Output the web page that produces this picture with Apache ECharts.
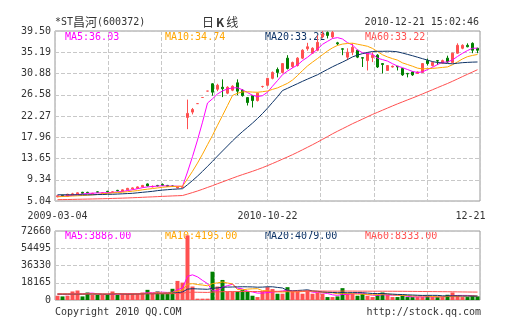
<!DOCTYPE html>
<html>
<head>
<meta charset="utf-8">
<script src="https://cdn.jsdelivr.net/npm/echarts@6/dist/echarts.min.js"></script>
<style>
html,body{margin:0;padding:0;background:#fff;}
#c{width:505px;height:330px;}
</style>
</head>
<body>
<div id="c"></div>
<script>
// Trading days shown on the daily K-line (suspension gap between 2009-04 and 2010-09)
const dates = [
  '2009-03-04','2009-03-05','2009-03-06','2009-03-09','2009-03-10','2009-03-11','2009-03-12','2009-03-13','2009-03-16','2009-03-17',
  '2009-03-18','2009-03-19','2009-03-20','2009-03-23','2009-03-24','2009-03-25','2009-03-26','2009-03-27','2009-03-30','2009-03-31',
  '2009-04-01','2009-04-02','2009-04-03','2009-04-07','2009-04-08','2009-04-09',
  '2010-09-20','2010-09-21','2010-09-27','2010-09-28','2010-09-29','2010-09-30','2010-10-08','2010-10-11','2010-10-12','2010-10-13',
  '2010-10-14','2010-10-15','2010-10-18','2010-10-19','2010-10-20','2010-10-21','2010-10-22','2010-10-25','2010-10-26','2010-10-27',
  '2010-10-28','2010-10-29','2010-11-01','2010-11-02','2010-11-03','2010-11-04','2010-11-05','2010-11-08','2010-11-09','2010-11-10',
  '2010-11-11','2010-11-12','2010-11-15','2010-11-16','2010-11-17','2010-11-18','2010-11-19','2010-11-22','2010-11-23','2010-11-24',
  '2010-11-25','2010-11-26','2010-11-29','2010-11-30','2010-12-01','2010-12-02','2010-12-03','2010-12-06','2010-12-07','2010-12-08',
  '2010-12-09','2010-12-10','2010-12-13','2010-12-14','2010-12-15','2010-12-16','2010-12-17','2010-12-20','2010-12-21'
];

const opens = [
  5.9,6.2,6.0,6.3,6.4,6.8,6.8,6.5,6.9,6.6,
  7.0,6.8,7.2,7.0,7.3,7.5,7.6,7.9,8.5,7.9,
  8.2,8.4,8.2,8.1,7.7,7.8,21.99,23.06,24.78,26.02,
  27.32,28.8,27.7,28.1,26.9,27.5,29.0,27.5,26.0,26.4,
  25.4,28.25,28.5,29.9,31.7,31.1,34.0,32.3,32.5,34.0,
  35.9,35.0,35.6,38.3,39.2,38.3,37.1,35.9,34.2,35.2,
  35.6,34.1,33.5,34.1,34.6,32.9,31.5,32.2,32.35,31.9,
  30.9,31.2,30.9,31.1,33.5,32.5,33.5,33.0,34.0,33.1,
  35.0,36.0,36.6,37.0,36.0
];
const closes = [
  6.1,6.0,6.4,6.5,6.7,6.6,6.7,6.6,6.8,6.7,
  6.9,6.9,7.1,7.3,7.6,7.7,7.9,8.2,8.1,8.0,
  8.1,8.2,8.0,8.0,7.9,7.9,22.8,23.6,24.78,26.02,
  27.32,27.1,28.5,27.8,28.1,28.3,27.3,26.4,25.0,25.4,
  26.9,28.25,29.9,31.1,31.1,32.9,31.9,33.1,34.0,35.6,
  36.3,36.0,37.2,38.9,38.6,39.2,36.9,35.8,35.2,36.2,
  34.2,34.0,35.0,34.6,32.2,32.7,32.5,32.35,32.2,30.6,
  30.8,30.6,31.2,32.9,32.9,33.1,33.4,33.5,33.2,35.0,
  36.6,36.6,36.3,35.6,35.6
];
const lows = [
  5.8,5.9,5.9,6.2,6.3,6.5,6.6,6.4,6.7,6.5,
  6.8,6.7,7.0,6.9,7.2,7.4,7.5,7.8,8.0,7.8,
  8.0,8.1,7.9,7.9,7.6,7.7,19.6,22.6,24.78,26.02,
  27.32,26.4,27.3,26.1,26.7,27.3,26.5,26.2,24.4,24.0,
  25.2,28.0,28.3,29.7,30.1,30.9,31.7,32.0,32.3,33.8,
  35.5,34.9,35.4,38.0,38.0,38.0,36.6,34.6,33.6,34.6,
  34.0,32.2,31.5,33.2,32.0,30.9,31.4,32.1,31.5,30.4,
  30.1,30.4,30.8,31.0,32.5,32.3,32.6,32.9,33.0,33.0,
  34.9,35.8,36.2,35.0,35.0
];
const highs = [
  6.2,6.3,6.5,6.7,6.8,6.9,6.9,6.7,7.0,6.8,
  7.1,7.0,7.3,7.4,7.7,7.8,8.0,8.3,8.6,8.2,
  8.3,8.6,8.3,8.2,8.0,8.0,25.6,23.9,24.78,26.02,
  27.32,28.9,28.8,29.7,28.3,28.5,29.7,27.7,26.1,26.5,
  27.0,28.4,30.0,31.3,32.1,33.0,34.6,33.3,34.2,35.8,
  37.1,36.2,38.6,39.5,39.4,39.5,37.3,36.0,36.0,37.0,
  35.7,34.2,35.0,35.2,34.8,33.0,32.6,32.5,32.4,32.0,
  31.0,31.3,31.3,33.0,33.9,33.3,33.6,33.7,34.5,35.1,
  37.0,36.8,37.0,37.2,36.1
];

const ma5 = [
  6.0,6.0,6.1,6.2,6.34,6.44,6.58,6.62,6.68,6.68,
  6.74,6.78,6.88,6.98,7.16,7.32,7.52,7.74,7.90,7.98,
  8.06,8.12,8.08,8.06,8.04,8.00,10.92,14.04,17.40,21.02,
  24.90,25.76,26.74,27.35,27.76,27.96,28.00,27.58,27.02,26.48,
  26.20,26.39,27.09,28.31,29.45,30.65,31.38,32.02,32.60,33.50,
  34.18,35.00,35.82,36.80,37.40,37.98,38.16,37.88,37.14,36.66,
  35.66,35.08,34.92,34.80,34.00,33.70,33.40,32.87,32.39,32.07,
  31.69,31.31,31.08,31.22,31.68,32.14,32.70,33.16,33.22,33.64,
  34.34,34.98,35.54,36.00,36.03
];
const ma10 = [
  5.9,5.95,6.0,6.05,6.1,6.15,6.2,6.3,6.35,6.51,
  6.59,6.68,6.75,6.83,6.92,7.03,7.15,7.31,7.44,7.57,
  7.69,7.82,7.91,7.98,8.01,8.03,9.52,11.06,12.73,14.53,
  16.45,18.34,20.39,22.37,24.39,26.43,26.88,27.16,27.18,27.12,
  27.08,27.20,27.34,27.67,27.97,28.43,28.89,29.56,30.46,31.48,
  32.42,33.19,33.92,34.70,35.45,36.08,36.58,36.85,36.97,37.03,
  36.82,36.62,36.40,35.97,35.33,34.68,34.24,33.90,33.60,33.04,
  32.70,32.36,31.98,31.81,31.88,31.92,32.01,32.12,32.22,32.66,
  33.24,33.84,34.30,34.55,34.74
];
const ma20 = [
  6.3,6.3,6.3,6.3,6.3,6.3,6.3,6.3,6.35,6.35,
  6.4,6.4,6.45,6.5,6.55,6.6,6.7,6.8,6.9,7.0,
  7.14,7.25,7.33,7.41,7.47,7.53,8.34,9.19,10.08,11.05,
  12.07,13.08,14.15,15.18,16.20,17.23,18.20,19.11,19.96,20.83,
  21.77,22.77,23.86,25.02,26.18,27.43,27.88,28.36,28.82,29.30,
  29.75,30.19,30.63,31.18,31.71,32.25,32.73,33.20,33.71,34.25,
  34.62,34.91,35.16,35.34,35.39,35.38,35.41,35.37,35.28,35.03,
  34.76,34.49,34.19,33.89,33.60,33.30,33.12,33.01,32.91,32.85,
  32.97,33.08,33.14,33.19,33.22
];
const ma60 = [
  5.31,5.33,5.34,5.36,5.39,5.41,5.43,5.45,5.48,5.50,
  5.53,5.56,5.59,5.62,5.66,5.70,5.74,5.79,5.84,5.88,
  5.93,5.98,6.02,6.07,6.11,6.15,6.44,6.75,7.07,7.42,
  7.79,8.15,8.54,8.91,9.29,9.67,10.04,10.39,10.72,11.06,
  11.42,11.80,12.21,12.64,13.07,13.53,13.97,14.43,14.91,15.42,
  15.93,16.45,16.98,17.54,18.09,18.66,19.18,19.69,20.19,20.71,
  21.17,21.64,22.12,22.59,23.01,23.45,23.88,24.31,24.73,25.13,
  25.53,25.92,26.32,26.75,27.17,27.59,28.02,28.44,28.86,29.31,
  29.78,30.26,30.73,31.19,31.65
];

const volumes = [
  4500,3800,4500,9000,10000,3800,7900,5500,5500,5500,
  5500,9000,5500,6600,6600,6600,6600,7900,10700,6900,
  9000,6600,6600,11800,20100,18300,68000,14200,1400,1400,
  1400,29800,14200,21100,9000,9000,9000,10700,9000,4500,
  3100,9000,13500,11500,6600,6600,13500,9000,9000,6600,
  10000,6600,7900,6600,3100,3100,3800,12500,6600,6600,
  4500,6600,4500,3100,5500,7900,5500,3100,3100,4500,
  3100,3100,3100,3100,4500,3100,3100,3100,5500,7900,
  4500,3100,3100,4500,3800
];
const volMa5 = [
  6000,5800,5600,6200,6360,6220,7040,7240,6540,5640,
  5980,6200,6200,6420,6640,6860,6380,6860,7680,7740,
  8220,8220,7960,8180,10820,12680,24960,26480,24400,20660,
  17280,9640,9640,13580,15100,16620,12460,11760,9340,8440,
  7260,7260,7820,8320,8740,9440,10340,9440,8940,8940,
  9620,8240,8020,7540,6840,5460,4900,5820,5820,6520,
  6800,7360,5760,5060,4840,5520,5300,5020,5020,4820,
  3860,3380,3380,3380,3380,3380,3380,3380,3860,4540,
  4820,4820,4820,4620,3886
];
const volMa10 = [
  6200,6200,6200,6200,6200,6100,6420,6420,6370,6000,
  6100,6620,6720,6480,6140,6420,6290,6530,7050,7190,
  7540,7300,7410,7930,9280,10450,16590,17220,16290,15740,
  14980,17300,18060,18990,17880,16950,11050,10700,11460,11770,
  11940,9860,9790,8830,8590,8350,8800,8630,8630,8840,
  9530,9290,8730,8240,7890,7540,6570,6920,6680,6680,
  6130,6130,5790,5440,5680,6160,6330,5390,5040,4830,
  4690,4340,4200,4200,4100,3620,3380,3380,3620,3960,
  4100,4100,4100,4240,4195
];
const volMa20 = [
  6300,6300,6300,6300,6300,6300,6300,6300,6300,6300,
  6150,6410,6460,6340,6170,6260,6360,6480,6710,6600,
  6820,6960,7070,7210,7710,8440,11440,11880,11670,11470,
  11260,12300,12740,13460,13580,13700,13820,13960,13880,13760,
  13460,13580,13930,13910,13240,12650,9930,9670,10050,10310,
  10740,9580,9260,8540,8240,7950,7690,7780,7660,7760,
  7830,7710,7260,6840,6790,6850,6450,6160,5860,5760,
  5410,5240,5000,4820,4890,4890,4860,4390,4330,4400,
  4400,4220,4150,4120,4079
];
const volMa60 = [
  6470,6450,6440,6460,6500,6440,6460,6440,6430,6420,
  6420,6450,6440,6450,6460,6470,6480,6490,6560,6530,
  6570,6570,6580,6680,6890,7090,8110,8240,8160,8070,
  7990,8380,8500,8750,8790,8830,8870,8940,8980,8950,
  8900,8950,9050,9130,9140,9150,9260,9300,9330,9340,
  9400,9400,9420,9420,9370,9330,9300,9400,9400,9370,
  9340,9300,9280,9250,9240,9250,9230,9200,9180,9180,
  9100,9050,9000,8950,8900,8850,8800,8750,8700,8640,
  8550,8480,8420,8370,8333
];

// Axis tick labels
const priceTicks = ['5.04','9.34','13.65','17.96','22.27','26.58','30.88','35.19','39.50'];
const volTicks = ['0','18165','36330','54495','72660'];
const xTickDates = ['2009-03-04','2010-10-22','2010-12-21'];
const xTickLabels = ['2009-03-04','2010-10-22','12-21'];

// Header / legend texts
const stockName = '昌河';
const stockCode = '(600372)';
const stamp = '2010-12-21 15:02:46';
const priceLegend = ['MA5:36.03','MA10:34.74','MA20:33.22','MA60:33.22'];
const volLegend = ['MA5:3886.00','MA10:4195.00','MA20:4079.00','MA60:8333.00'];

const MONO = 'DejaVu Sans Mono';
const CJK = 'Noto Sans CJK SC';
const TXT = '#333';
const RED = '#ff5050', GREEN = '#008000';
const MA_COLORS = ['#ff00ff', '#ffa500', '#0d3366', '#ff5050'];
const gridLine = () => ({show: true, lineStyle: {color: '#c8c8c8', width: 1, type: 'dashed'}});

const candles = dates.map((d, i) => [opens[i], closes[i], lows[i], highs[i]]);
const rising = i => closes[i] > opens[i] || (closes[i] === opens[i] && (i === 0 || closes[i] >= closes[i - 1]));
const volBars = volumes.map((v, i) => ({value: v, itemStyle: {color: rising(i) ? RED : GREEN}}));

function maSeries(data, color, xi, yi) {
  return {
    type: 'line', data, xAxisIndex: xi, yAxisIndex: yi,
    showSymbol: false, symbol: 'none', silent: true, z: 3,
    lineStyle: {color, width: 1}, itemStyle: {color}
  };
}

function label(x, y, text, color, align) {
  return {
    type: 'text', x, y, z: 0,
    style: {text, fill: color, font: '10px "' + MONO + '"', align: align || 'left', verticalAlign: 'middle'}
  };
}

const legendX = [65, 165, 265, 365];
const graphics = [
  {
    type: 'text', x: 55, y: 22,
    style: {
      text: '{m|*ST}{c|' + stockName + '}{m|' + stockCode + '}',
      verticalAlign: 'middle',
      rich: {
        m: {fontFamily: MONO, fontSize: 10, fill: TXT},
        c: {fontFamily: CJK, fontSize: 12, fill: TXT}
      }
    }
  },
  {
    type: 'text', x: 202, y: 22,
    style: {
      text: '{c|日}{k|K}{c|线}',
      verticalAlign: 'middle',
      rich: {
        c: {fontFamily: CJK, fontSize: 12, fill: TXT},
        k: {fontFamily: CJK, fontSize: 12, fontWeight: 'bold', fill: TXT, padding: [0, 2, 0, 2]}
      }
    }
  },
  label(479, 22, stamp, TXT, 'right'),
  label(55, 312, 'Copyright 2010 QQ.COM', TXT, 'left'),
  label(481, 312, 'http://stock.qq.com', TXT, 'right')
];
priceLegend.forEach((t, k) => graphics.push(label(legendX[k], 37, t, MA_COLORS[k])));
volLegend.forEach((t, k) => graphics.push(label(legendX[k], 236, t, MA_COLORS[k])));

const chart = echarts.init(document.getElementById('c'), null, {renderer: 'canvas', width: 505, height: 330});

chart.setOption({
  animation: false,
  graphic: graphics,
  grid: [
    {left: 55, top: 31, width: 425, height: 170, show: true, borderColor: '#999', borderWidth: 1},
    {left: 55, top: 231, width: 425, height: 69, show: true, borderColor: '#999', borderWidth: 1}
  ],
  xAxis: [
    {
      type: 'category', gridIndex: 0, data: dates, boundaryGap: true,
      axisLine: {show: false}, axisTick: {show: false}, splitLine: {show: false},
      axisLabel: {
        interval: (idx, val) => xTickDates.indexOf(val) >= 0,
        formatter: (val) => {
          const k = xTickDates.indexOf(val);
          return k === xTickLabels.length - 1 ? '{e|' + xTickLabels[k] + '}' : xTickLabels[k];
        },
        rich: {e: {fontFamily: MONO, fontSize: 10, color: TXT, padding: [0, 14, 0, 0]}},
        fontFamily: MONO, fontSize: 10, color: TXT, margin: 10
      }
    },
    {
      type: 'category', gridIndex: 1, data: dates, boundaryGap: true,
      axisLine: {show: false}, axisTick: {show: false}, axisLabel: {show: false}, splitLine: {show: false}
    },
    {
      type: 'value', gridIndex: 0, min: 0, max: 8, interval: 1, position: 'top',
      axisLine: {show: false}, axisTick: {show: false}, axisLabel: {show: false}, splitLine: gridLine()
    },
    {
      type: 'value', gridIndex: 1, min: 0, max: 8, interval: 1, position: 'top',
      axisLine: {show: false}, axisTick: {show: false}, axisLabel: {show: false}, splitLine: gridLine()
    }
  ],
  yAxis: [
    {
      type: 'value', gridIndex: 0, min: 5.04, max: 39.5, interval: 4.3075,
      axisLine: {show: false}, axisTick: {show: false}, splitLine: gridLine(),
      axisLabel: {formatter: (v, i) => priceTicks[i], fontFamily: MONO, fontSize: 10, color: TXT, margin: 4}
    },
    {
      type: 'value', gridIndex: 1, min: 0, max: 72660, interval: 18165,
      axisLine: {show: false}, axisTick: {show: false}, splitLine: gridLine(),
      axisLabel: {formatter: (v, i) => volTicks[i], fontFamily: MONO, fontSize: 10, color: TXT, margin: 4}
    }
  ],
  series: [
    {
      type: 'candlestick', xAxisIndex: 0, yAxisIndex: 0, data: candles,
      barWidth: 3, silent: true,
      itemStyle: {color: RED, color0: GREEN, borderColor: RED, borderColor0: GREEN, borderWidth: 1}
    },
    maSeries(ma5, MA_COLORS[0], 0, 0),
    maSeries(ma10, MA_COLORS[1], 0, 0),
    maSeries(ma20, MA_COLORS[2], 0, 0),
    maSeries(ma60, MA_COLORS[3], 0, 0),
    {
      type: 'bar', xAxisIndex: 1, yAxisIndex: 1, data: volBars, barWidth: 4, silent: true, z: 2
    },
    maSeries(volMa5, MA_COLORS[0], 1, 1),
    maSeries(volMa10, MA_COLORS[1], 1, 1),
    maSeries(volMa20, MA_COLORS[2], 1, 1),
    maSeries(volMa60, MA_COLORS[3], 1, 1)
  ]
});
</script>
</body>
</html>
